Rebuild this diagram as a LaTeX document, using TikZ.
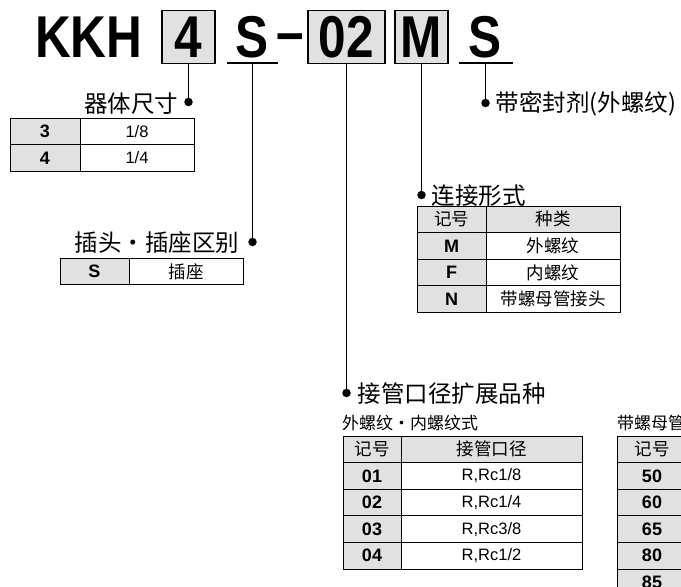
\documentclass[tikz,border=0pt]{standalone}
\usepackage{fontspec}
\setmainfont{Liberation Sans}
\newfontfamily\cjk{Noto Sans CJK SC}
\newfontfamily\titlefont[FakeStretch=0.84]{Liberation Sans}
\usetikzlibrary{positioning}
\definecolor{keygray}{HTML}{E1E1E1}

\begin{document}
\begin{tikzpicture}[
    x=1pt, y=-1pt,
    node distance=0pt,
    every node/.style={inner sep=0pt, outer sep=0pt},
    code/.style={font=\titlefont\bfseries\fontsize{59}{59}\selectfont, anchor=base, minimum height=53pt},
    codebox/.style={code, draw, line width=1.3pt, fill=keygray, minimum width=#1},
    lead/.style={line width=1.4pt},
    dot/.style={circle, fill, minimum size=8.5pt},
    heading/.style={font=\cjk\fontsize{23.5}{23.5}\selectfont},
    subhead/.style={font=\cjk\fontsize{17}{17}\selectfont},
    cell/.style={draw, line width=0.9pt, minimum height=26.6pt, minimum width=#1},
    keycell/.style={cell=#1, fill=keygray, font=\bfseries\fontsize{18}{18}\selectfont},
    hdrcell/.style={cell=#1, fill=keygray, font=\cjk\fontsize{17.5}{17.5}\selectfont},
    valcell/.style={cell=#1, font=\fontsize{16.5}{16.5}\selectfont},
    cjkcell/.style={cell=#1, font=\cjk\fontsize{17.5}{17.5}\selectfont}
]
    \useasboundingbox (0,0) rectangle (681,587);
    \clip (0,0) rectangle (681,587);

    % model code
    \node[code, anchor=base west] (kkh) at (35,57) {KKH};
    \node[codebox=53pt] (size) at (188.5,57) {4};
    \node[code, minimum width=51pt] (plug) at (252.5,57) {S};
    \node[code] (dash) at (290.5,52) {–};
    \node[codebox=77pt] (port) at (346.5,57) {02};
    \node[codebox=53pt] (conn) at (421.5,57) {M};
    \node[code, minimum width=54pt] (seal) at (485.5,57) {S};
    \draw[lead] (plug.south west) -- (plug.south east);
    \draw[lead] (seal.south west) -- (seal.south east);

    % leaders
    \node[dot] (d1) at (188.5,102) {};
    \node[dot] (d2) at (252.5,242) {};
    \node[dot] (d3) at (421.5,195) {};
    \node[dot] (d4) at (346.5,393) {};
    \node[dot] (d5) at (485.5,103) {};
    \draw[lead] (size) -- (d1);
    \draw[lead] (plug) -- (d2);
    \draw[lead] (conn) -- (d3);
    \draw[lead] (port) -- (d4);
    \draw[lead] (seal) -- (d5);

    \node[heading, left=6pt of d1, yshift=-2pt] (sizelbl) {器体尺寸};
    \node[heading, left=9pt of d2, yshift=-1pt] (pluglbl) {插头・插座区别};
    \node[heading, right=6pt of d3, yshift=-1pt] (connlbl) {连接形式};
    \node[heading, right=7pt of d4, yshift=-1pt] (portlbl) {接管口径扩展品种};
    \node[heading, right=6pt of d5, yshift=-1pt] (seallbl) {带密封剂(外螺纹)};

    % body size
    \node[keycell=70pt, anchor=north west] (s3) at (10,118) {3};
    \node[valcell=114pt, right=of s3] (s3v) {1/8};
    \node[keycell=70pt, below=of s3] (s4) {4};
    \node[valcell=114pt, right=of s4] (s4v) {1/4};

    % plug / socket
    \node[keycell=69pt, anchor=north west] (ps) at (60,258) {S};
    \node[cjkcell=114pt, right=of ps] (psv) {插座};

    % connection type
    \node[hdrcell=69pt, anchor=north west] (ch) at (417,206) {记号};
    \node[hdrcell=134pt, right=of ch] (chv) {种类};
    \node[keycell=69pt, below=of ch] (cm) {M};
    \node[cjkcell=134pt, right=of cm] (cmv) {外螺纹};
    \node[keycell=69pt, below=of cm] (cf) {F};
    \node[cjkcell=134pt, right=of cf] (cfv) {内螺纹};
    \node[keycell=69pt, below=of cf] (cn) {N};
    \node[cjkcell=134pt, right=of cn] (cnv) {带螺母管接头};

    % port sizes, male/female thread
    \node[subhead, anchor=west] (mfhead) at (342,423) {外螺纹・内螺纹式};
    \node[hdrcell=58pt, anchor=north west] (mh) at (343,436) {记号};
    \node[hdrcell=181pt, right=of mh] (mhv) {接管口径};
    \node[keycell=58pt, below=of mh] (m01) {01};
    \node[valcell=181pt, right=of m01] (m01v) {R,Rc1/8};
    \node[keycell=58pt, below=of m01] (m02) {02};
    \node[valcell=181pt, right=of m02] (m02v) {R,Rc1/4};
    \node[keycell=58pt, below=of m02] (m03) {03};
    \node[valcell=181pt, right=of m03] (m03v) {R,Rc3/8};
    \node[keycell=58pt, below=of m03] (m04) {04};
    \node[valcell=181pt, right=of m04] (m04v) {R,Rc1/2};

    % port sizes, nut type (cut at the edge)
    \node[subhead, anchor=west] (nhead) at (617,423) {带螺母管};
    \node[hdrcell=70pt, anchor=north west] (nh) at (617,436) {记号};
    \node[keycell=70pt, below=of nh] (n50) {50};
    \node[keycell=70pt, below=of n50] (n60) {60};
    \node[keycell=70pt, below=of n60] (n65) {65};
    \node[keycell=70pt, below=of n65] (n80) {80};
    \node[keycell=70pt, below=of n80] (n85) {85};
\end{tikzpicture}
\end{document}
